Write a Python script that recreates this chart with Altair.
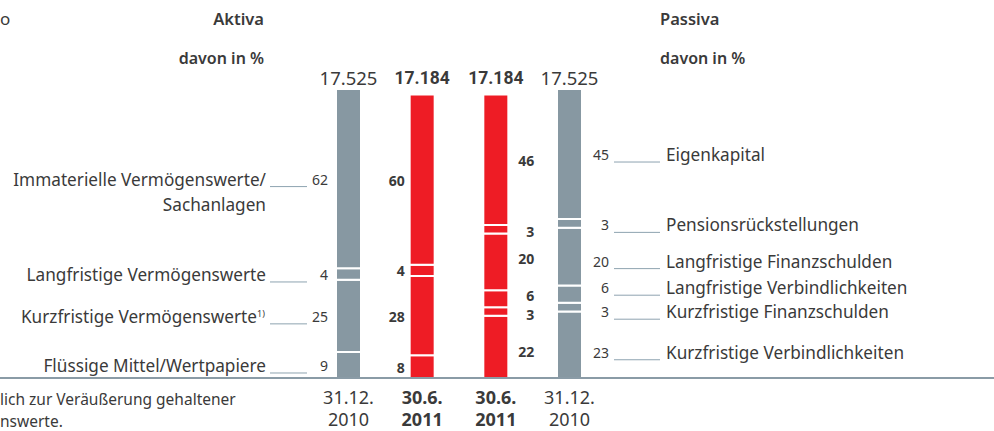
import altair as alt
import pandas as pd

# ---------------- data ----------------
COLUMNS = ["31.12.2010 Aktiva", "30.6.2011 Aktiva", "30.6.2011 Passiva", "31.12.2010 Passiva"]
DATE_LINE1 = ["31.12.", "30.6.", "30.6.", "31.12."]
DATE_LINE2 = ["2010", "2011", "2011", "2010"]
TOTALS = [17525, 17184, 17184, 17525]
TOTAL_LABELS = ["17.525", "17.184", "17.184", "17.525"]
IS_CURRENT = [False, True, True, False]

AKTIVA_ITEMS = ["Immaterielle Vermögenswerte/\nSachanlagen", "Langfristige Vermögenswerte",
                "Kurzfristige Vermögenswerte", "Flüssige Mittel/Wertpapiere"]
AKTIVA_FOOTNOTE = ["", "", "1)", ""]
AKTIVA_2010 = [62, 4, 25, 9]
AKTIVA_2011 = [60, 4, 28, 8]

PASSIVA_ITEMS = ["Eigenkapital", "Pensionsrückstellungen", "Langfristige Finanzschulden",
                 "Langfristige Verbindlichkeiten", "Kurzfristige Finanzschulden",
                 "Kurzfristige Verbindlichkeiten"]
PASSIVA_2011 = [46, 3, 20, 6, 3, 22]
PASSIVA_2010 = [45, 3, 20, 6, 3, 23]

HEADER_TEXTS = ["o", "Aktiva", "davon in %", "Passiva", "davon in %"]
FOOTNOTE_LINES = ["lich zur Veräußerung gehaltener", "nswerte."]

# ---------------- layout / style ----------------
W, H = 994, 431
Y_BOTTOM, Y_TOP = 378, 89
X_RANGE = [336, 582]
PAD_INNER = 0.6606
GRAY = "#8798a2"
RED = "#ee1c25"
TXT = "#3a3a3a"
LINE = "#8ea3b0"
FONT = "Noto Sans"
BOLD_NUM_FONT = "Roboto"
LABEL_SIZE = 17.2
TDY = 2          # optical centring of text on its row
LEADER_OFF = 8   # leader lines sit on the text baseline
# small pixel nudges (positive = downward) for label rows on the passiva side
NUDGE_P_2010 = [0, 1, 4, -7, 4, 7]
NUDGE_P_2011 = [0, 2, -4, -4, 3, 4]

YMAX = max(TOTALS)
UNITS_PER_PX = YMAX / (Y_BOTTOM - Y_TOP)

series = [
    (AKTIVA_ITEMS, AKTIVA_2010, None),
    (AKTIVA_ITEMS, AKTIVA_2011, None),
    (PASSIVA_ITEMS, PASSIVA_2011, NUDGE_P_2011),
    (PASSIVA_ITEMS, PASSIVA_2010, NUDGE_P_2010),
]

rows = []
for ci, (items, pcts, nudges) in enumerate(series):
    total = TOTALS[ci]
    cum = 0.0
    n = len(items)
    for k in range(n - 1, -1, -1):  # stack from the bottom
        v = pcts[k] / 100 * total
        start, end = cum, cum + v
        cum = end
        nudge = nudges[k] if nudges else 0
        rows.append(dict(col=COLUMNS[ci], ci=ci, item=items[k], k=k, pct=pcts[k],
                         y0=start, y1=end,
                         ly=(start + end) / 2 - nudge * UNITS_PER_PX,
                         current=IS_CURRENT[ci]))
seg = pd.DataFrame(rows)

xscale = alt.Scale(domain=COLUMNS, range=X_RANGE, paddingInner=PAD_INNER, paddingOuter=0)
yscale = alt.Scale(domain=[0, YMAX], range=[Y_BOTTOM, Y_TOP], nice=False, zero=True)
X = lambda pos=0.5: alt.X("col:N", scale=xscale, axis=None, bandPosition=pos)
Y = lambda f: alt.Y(f, scale=yscale, axis=None)

base = alt.Chart(seg)

bars = base.mark_bar(stroke="white", strokeWidth=2).encode(
    x=alt.X("col:N", scale=xscale, axis=None),
    y=Y("y0:Q"), y2="y1:Q",
    color=alt.Color("current:N", scale=alt.Scale(domain=[False, True], range=[GRAY, RED]), legend=None),
)

def value_layer(ci, pos, dx, bold):
    return base.transform_filter(alt.datum.ci == ci).mark_text(
        align="right", baseline="middle", dx=dx, dy=TDY, font=FONT, fontSize=14,
        fontWeight="bold" if bold else "normal", color=TXT
    ).encode(x=X(pos), y=Y("ly:Q"), text="pct:Q")

vals = [
    value_layer(0, 0, -8, False),
    value_layer(1, 0, -5, True),
    value_layer(2, 1, 26, True),
    value_layer(3, 1, 27, False),
]

# totals on top (one common row above the tallest bar) and dates below
tot_df = pd.DataFrame(dict(col=COLUMNS, total=TOTALS, lab=TOTAL_LABELS, current=IS_CURRENT,
                           d1=DATE_LINE1, d2=DATE_LINE2))
tot_base = alt.Chart(tot_df)
totals = []
dates = []
for cur in [False, True]:
    w = "bold" if cur else "normal"
    tb = tot_base.transform_filter(alt.datum.current == cur)
    totals.append(tot_base.transform_joinaggregate(top="max(total)")
                  .transform_filter(alt.datum.current == cur)
                  .mark_text(baseline="middle", dy=-10,
                             font=BOLD_NUM_FONT if cur else FONT,
                             fontSize=17.5 if cur else 18.5,
                             fontWeight=w, color=TXT)
                  .encode(x=X(0.5), y=alt.Y("top:Q", scale=yscale, axis=None), text="lab:N"))
    dates.append(tb.mark_text(baseline="middle", dy=3, font=FONT, fontSize=18, fontWeight=w, color=TXT)
                 .encode(x=X(0.5), y=alt.value(396), text="d1:N"))
    dates.append(tb.mark_text(baseline="middle", dy=3, font=FONT, fontSize=18, fontWeight=w, color=TXT)
                 .encode(x=X(0.5), y=alt.value(418), text="d2:N"))

# category labels (left, based on 31.12.2010 aktiva bar)
left = seg[seg.ci == 0].copy()
left_lines = []
for _, r in left.iterrows():
    parts = r["item"].split("\n")
    for li, p in enumerate(parts):
        left_lines.append(dict(txt=p, ly=r["ly"] - li * 25 * UNITS_PER_PX,
                               fn=AKTIVA_FOOTNOTE[r["k"]] if li == 0 else ""))
left_df = pd.DataFrame(left_lines)
left_main = alt.Chart(left_df).transform_filter(alt.datum.fn == "").mark_text(
    align="right", baseline="middle", dy=TDY, font=FONT, fontSize=LABEL_SIZE, color=TXT
).encode(x=alt.value(266), y=Y("ly:Q"), text="txt:N")
left_fn_txt = alt.Chart(left_df).transform_filter(alt.datum.fn != "").mark_text(
    align="right", baseline="middle", dy=TDY, font=FONT, fontSize=LABEL_SIZE, color=TXT
).encode(x=alt.value(257), y=Y("ly:Q"), text="txt:N")
left_fn = alt.Chart(left_df).transform_filter(alt.datum.fn != "").mark_text(
    align="left", baseline="middle", dy=TDY - 4, font=FONT, fontSize=9, color=TXT
).encode(x=alt.value(257), y=Y("ly:Q"), text="fn:N")
left_leader = alt.Chart(left).mark_rule(color=LINE, strokeWidth=1, yOffset=LEADER_OFF).encode(
    x=alt.value(270), x2=alt.value(307), y=Y("ly:Q"))

right = seg[seg.ci == 3]
right_txt = alt.Chart(right).mark_text(
    align="left", baseline="middle", dy=TDY, font=FONT, fontSize=LABEL_SIZE, color=TXT
).encode(x=alt.value(666), y=Y("ly:Q"), text="item:N")
right_leader = alt.Chart(right).mark_rule(color=LINE, strokeWidth=1, yOffset=LEADER_OFF).encode(
    x=alt.value(614), x2=alt.value(660), y=Y("ly:Q"))

# baseline
baseline = alt.Chart(tot_df.head(1)).mark_rule(color="#8a9ba6", strokeWidth=2).encode(
    x=alt.value(0), x2=alt.value(W), y=alt.Y("z:Q", scale=yscale, axis=None)
).transform_calculate(z="0")

# headers and footnote
hdr = pd.DataFrame(dict(
    t=HEADER_TEXTS,
    x=[0, 264, 264, 660, 660],
    y=[18, 18, 57, 18, 57],
    a=["left", "right", "right", "left", "left"],
    w=[400, 600, 600, 600, 600],
    s=[17, 16.5, 16, 16.5, 16],
))
headers = []
for i, r in hdr.iterrows():
    headers.append(alt.Chart(hdr.iloc[[i]]).mark_text(
        align=r["a"], baseline="middle", dy=2, font=FONT, fontSize=float(r["s"]), fontWeight=int(r["w"]), color=TXT
    ).encode(x=alt.value(int(r["x"])), y=alt.value(int(r["y"])), text="t:N"))

foot = pd.DataFrame(dict(t=FOOTNOTE_LINES, y=[398, 420]))
footnote = alt.Chart(foot).mark_text(align="left", baseline="middle", dy=2, font=FONT, fontSize=15.5, color=TXT).encode(
    x=alt.value(0), y=alt.Y("y:Q", scale=None, axis=None), text="t:N")

chart = alt.layer(
    bars, *vals, *totals, *dates, left_main, left_fn_txt, left_fn, left_leader,
    right_txt, right_leader, baseline, *headers, footnote
).properties(width=W, height=H, padding=0, autosize="none"
).configure_view(stroke=None).resolve_scale(y="shared")

chart.save("out.html", embed_options={"renderer": "svg", "actions": False})
